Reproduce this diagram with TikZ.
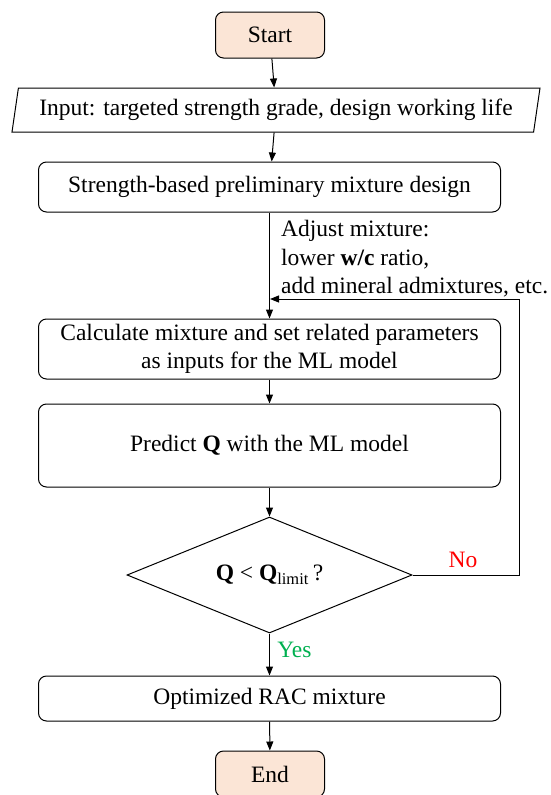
\documentclass[tikz,border=0pt]{standalone}
\usepackage{fontspec}
\setmainfont{Liberation Serif}
\usepackage{xcolor}
\definecolor{termcolor}{RGB}{251,229,214}
\definecolor{nocolor}{RGB}{255,0,0}
\definecolor{yescolor}{RGB}{0,176,80}
\usetikzlibrary{arrows.meta,shapes.geometric}
\tikzset{
	box/.style={draw, line width=1pt, rounded corners=8pt, align=center, inner sep=0pt},
	term/.style={box, fill=termcolor, minimum width=109pt, minimum height=46pt},
	wide/.style={box, minimum width=462pt},
	arr/.style={line width=1pt, -{Triangle[length=9pt,width=7pt]}}
}
\begin{document}
\begin{tikzpicture}[x=1pt, y=-1pt, font=\fontsize{23.5}{28.5}\selectfont]
	\clip (0, 0) rectangle (550, 795);
	\node [term] (start) at (270, 35) {Start};
	\node [draw, line width=1pt, trapezium, trapezium left angle=73.5, trapezium right angle=106.5, trapezium stretches body, minimum width=528pt, minimum height=44pt, inner sep=0pt] (inp) at (276, 110) {Input: targeted strength grade, design working life};
	\node [wide, minimum height=50pt] (pre) at (269.5, 187) {Strength-based preliminary mixture design};
	\node [wide, minimum height=60pt] (calc) at (269.5, 349) {Calculate mixture and set related parameters\\as inputs for the ML model};
	\node [wide, minimum height=83pt] (pred) at (269.5, 445.5) {Predict \textbf{Q} with the ML model};
	\node [draw, line width=1pt, diamond, aspect=2.46, minimum width=285pt, minimum height=116pt, inner sep=0pt] (dec) at (269.5, 575) {\textbf{Q} < \textbf{Q}\textsubscript{limit}\,?};
	\node [wide, minimum height=45pt] (opt) at (269.5, 698.5) {Optimized RAC mixture};
	\node [term] (end) at (270, 774) {End};
	\node [align=left, anchor=west, inner sep=0pt] (adj) at (281, 259) {Adjust mixture:\\lower \textbf{w/c} ratio,\\add mineral admixtures, etc.};
	\coordinate (turn) at (519, 299);
	\coordinate (back) at (270, 299);
	\draw [arr] (start) -- (inp);
	\draw [arr] (inp) -- (pre);
	\draw [arr] (pre) -- (calc);
	\draw [arr] (dec.east) -| (turn) -- (back);
	\draw [arr] (calc) -- (pred);
	\draw [arr] (pred) -- (dec);
	\draw [arr] (dec) -- (opt) node [pos=0.38, right=4pt, text=yescolor] (yes) {Yes};
	\draw [arr] (opt) -- (end);
	\node [text=nocolor] (no) at (463, 560) {No};
\end{tikzpicture}
\end{document}
